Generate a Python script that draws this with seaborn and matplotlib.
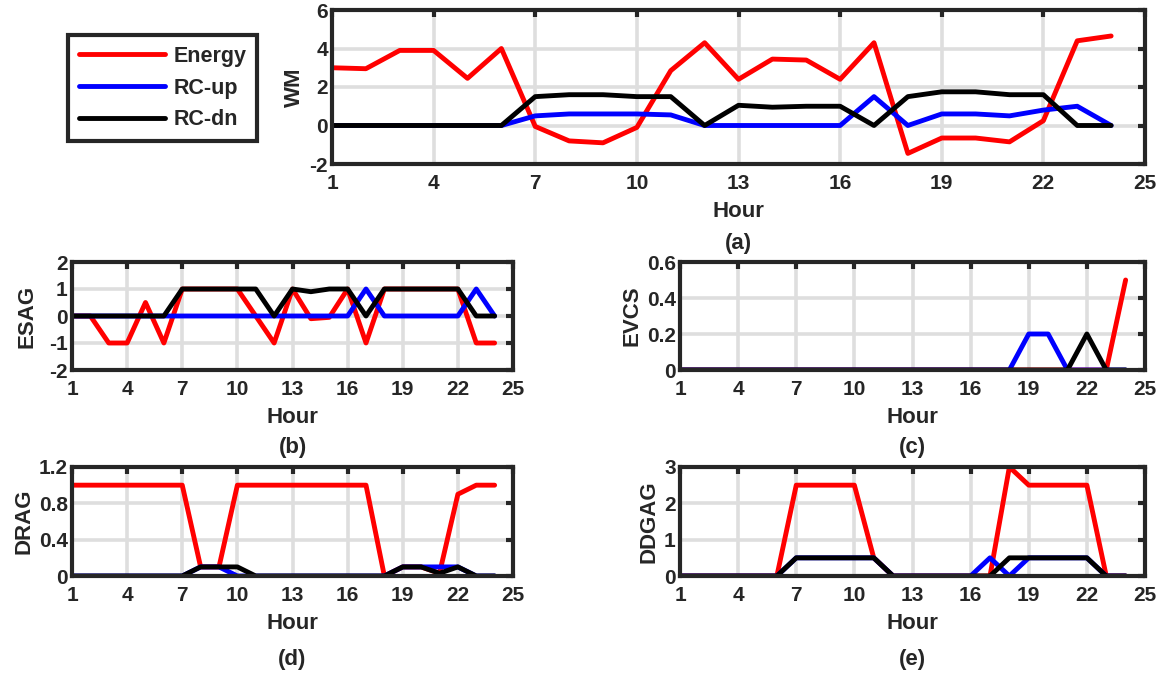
import pandas as pd
import matplotlib.pyplot as plt
import seaborn as sns
import numpy as np

hours = list(range(1, 25))
series_names = ['Energy', 'RC-up', 'RC-dn']
colors = ['#ff0000', '#0000ff', '#000000']

# (a) WM
wm_energy = [3.0, 2.95, 3.9, 3.9, 2.45, 4.0, -0.05, -0.8, -0.9, -0.1, 2.85, 4.3,
             2.4, 3.45, 3.4, 2.4, 4.3, -1.45, -0.65, -0.65, -0.85, 0.25, 4.4, 4.65]
wm_up = [0, 0, 0, 0, 0, 0, 0.5, 0.6, 0.6, 0.6, 0.55, 0,
         0, 0, 0, 0, 1.5, 0, 0.6, 0.6, 0.5, 0.8, 1.0, 0]
wm_dn = [0, 0, 0, 0, 0, 0, 1.5, 1.6, 1.6, 1.5, 1.5, 0,
         1.05, 0.95, 1.0, 1.0, 0, 1.5, 1.75, 1.75, 1.6, 1.6, 0, 0]

# (b) ESAG
esag_energy = [0, 0, -1, -1, 0.5, -1, 1, 1, 1, 1, 0, -1,
               1, -0.1, -0.05, 1, -1, 1, 1, 1, 1, 1, -1, -1]
esag_up = [0, 0, 0, 0, 0, 0, 0, 0, 0, 0, 0, 0,
           0, 0, 0, 0, 1, 0, 0, 0, 0, 0, 1, 0]
esag_dn = [0, 0, 0, 0, 0, 0, 1, 1, 1, 1, 1, 0,
           1, 0.9, 1, 1, 0, 1, 1, 1, 1, 1, 0, 0]

# (c) EVCS
evcs_energy = [0] * 23 + [0.5]
evcs_up = [0] * 18 + [0.2, 0.2, 0, 0, 0, 0]
evcs_dn = [0] * 21 + [0.2, 0, 0]

# (d) DRAG
drag_energy = [1, 1, 1, 1, 1, 1, 1, 0.1, 0.1, 1, 1, 1,
               1, 1, 1, 1, 1, 0, 0.1, 0.1, 0.03, 0.9, 1, 1]
drag_up = [0, 0, 0, 0, 0, 0, 0, 0.1, 0.1, 0, 0, 0,
           0, 0, 0, 0, 0, 0, 0.1, 0.1, 0.1, 0.1, 0, 0]
drag_dn = [0, 0, 0, 0, 0, 0, 0, 0.1, 0.1, 0.1, 0, 0,
           0, 0, 0, 0, 0, 0, 0.1, 0.1, 0.03, 0.1, 0, 0]

# (e) DDGAG
ddgag_energy = [0, 0, 0, 0, 0, 0, 2.5, 2.5, 2.5, 2.5, 0.5, 0,
                0, 0, 0, 0, 0, 3.0, 2.5, 2.5, 2.5, 2.5, 0, 0]
ddgag_up = [0, 0, 0, 0, 0, 0, 0.5, 0.5, 0.5, 0.5, 0.5, 0,
            0, 0, 0, 0, 0.5, 0, 0.5, 0.5, 0.5, 0.5, 0, 0]
ddgag_dn = [0, 0, 0, 0, 0, 0, 0.5, 0.5, 0.5, 0.5, 0.5, 0,
            0, 0, 0, 0, 0, 0.5, 0.5, 0.5, 0.5, 0.5, 0, 0]

sns.set_style('white')
plt.rcParams['font.family'] = ['Liberation Sans', 'DejaVu Sans']
plt.rcParams['font.weight'] = 'bold'
plt.rcParams['axes.labelweight'] = 'bold'

W, H = 1165, 674
fig = plt.figure(figsize=(W / 100, H / 100), dpi=100)
dark = '#262626'


def frac(l, t, r, b):
    return [l / W, 1 - b / H, (r - l) / W, (b - t) / H]


# name, values, (left, top, right, bottom) px, ylim, yticks, yticklabels, tag, tag offset px
panels = [
    ('WM', [wm_energy, wm_up, wm_dn], (332, 10, 1145, 164), (-2, 6), [-2, 0, 2, 4, 6], ['-2', '0', '2', '4', '6'], '(a)', 79),
    ('ESAG', [esag_energy, esag_up, esag_dn], (72, 262, 513, 370), (-2, 2), [-2, -1, 0, 1, 2], ['-2', '-1', '0', '1', '2'], '(b)', 78),
    ('EVCS', [evcs_energy, evcs_up, evcs_dn], (680, 262, 1145, 370), (0, 0.6), [0, 0.2, 0.4, 0.6], ['0', '0.2', '0.4', '0.6'], '(c)', 78),
    ('DRAG', [drag_energy, drag_up, drag_dn], (72, 467, 513, 576), (0, 1.2), [0, 0.4, 0.8, 1.2], ['0', '0.4', '0.8', '1.2'], '(d)', 84),
    ('DDGAG', [ddgag_energy, ddgag_up, ddgag_dn], (680, 467, 1145, 576), (0, 3), [0, 1, 2, 3], ['0', '1', '2', '3'], '(e)', 84),
]

axes = []
for i, (name, vals, box, ylim, yt, ytl, tag, off) in enumerate(panels):
    ax = fig.add_axes(frac(*box))
    df = pd.concat([pd.DataFrame({'Hour': hours, 'val': v, 'Series': s})
                    for s, v in zip(series_names, vals)])
    sns.lineplot(data=df, x='Hour', y='val', hue='Series', hue_order=series_names,
                 palette=colors, linewidth=3.5, ax=ax, legend=(i == 0), zorder=3)
    ax.set_xlim(1, 25)
    ax.set_ylim(*ylim)
    ax.set_xticks(range(1, 26, 3))
    ax.set_yticks(yt)
    ax.set_yticklabels(ytl)
    ax.grid(True, color='#dedede', linewidth=2.6, zorder=0)
    ax.set_axisbelow(True)
    for sp in ax.spines.values():
        sp.set_color(dark)
        sp.set_linewidth(3)
        sp.set_zorder(5)
    ax.tick_params(direction='in', length=5, width=3, color=dark,
                   top=True, right=True, labelsize=15, labelcolor=dark)
    ax.tick_params(axis='x', pad=7)
    ax.tick_params(axis='y', pad=3)
    ax.set_ylabel(name, fontsize=16, fontweight='bold', color=dark,
                  labelpad=8 if name == 'ESAG' else 3)
    ax.set_xlabel('Hour', fontsize=16, fontweight='bold', color=dark, labelpad=6)
    h_px = box[3] - box[1]
    ax.text(0.5, -off / h_px, tag, transform=ax.transAxes, ha='center',
            va='center', fontsize=16, fontweight='bold', color=dark)
    axes.append(ax)

handles, labels = axes[0].get_legend_handles_labels()
leg = axes[0].legend(handles, labels, loc='upper left', bbox_to_anchor=(68 / W, 1 - 35 / H),
                     bbox_transform=fig.transFigure, frameon=True, fancybox=False,
                     framealpha=1, handlelength=4.0, handletextpad=0.4, labelspacing=0.5,
                     borderpad=0.5, borderaxespad=0, prop={'size': 15.5, 'weight': 'bold'})
leg.get_frame().set_edgecolor(dark)
leg.get_frame().set_linewidth(3)
for ln in leg.get_lines():
    ln.set_linewidth(3.5)

fig.savefig('out.png', dpi=100)
